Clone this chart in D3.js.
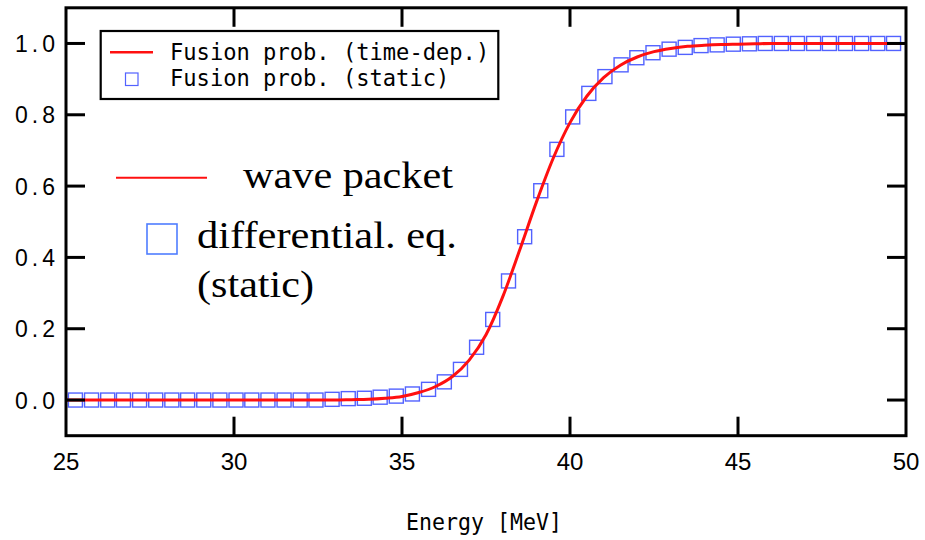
<!DOCTYPE html>
<html>
<head>
<meta charset="utf-8">
<script src="https://cdn.jsdelivr.net/npm/d3@7"></script>
<style>
  body { margin: 0; background: #fff; }
  svg { display: block; }
</style>
</head>
<body>
<svg class="chart" width="925" height="540"></svg>
<script>
// static calculation (differential eq.)
const energyStatic = [
  25.28, 25.76, 26.24, 26.71, 27.19, 27.67, 28.15, 28.62, 29.10, 29.58,
  30.06, 30.53, 31.01, 31.49, 31.97, 32.44, 32.92, 33.40, 33.88, 34.35,
  34.83, 35.31, 35.79, 36.26, 36.74, 37.22, 37.70, 38.17, 38.65, 39.13,
  39.61, 40.08, 40.56, 41.04, 41.52, 41.99, 42.47, 42.95, 43.43, 43.90,
  44.38, 44.86, 45.34, 45.81, 46.29, 46.77, 47.25, 47.72, 48.20, 48.68,
  49.16, 49.63
];
const probStatic = [
  0, 0, 0, 0, 0, 0, 0, 0, 0, 0,
  0, 0, 0, 0, 0, 0, 0.002, 0.004, 0.005, 0.008,
  0.011, 0.017, 0.030, 0.051, 0.086, 0.148, 0.226, 0.334, 0.458, 0.587,
  0.703, 0.794, 0.860, 0.907, 0.940, 0.960, 0.974, 0.984, 0.989, 0.994,
  0.996, 0.998, 0.999, 1, 1, 1, 1, 1, 1, 1,
  1, 1
];

// time-dependent wave packet
const energyWave = [
  25, 25.5, 26, 26.5, 27, 27.5, 28, 28.5, 29, 29.5,
  30, 30.5, 31, 31.5, 32, 32.5, 33, 33.5, 34, 34.5,
  35, 35.5, 36, 36.5, 37, 37.5, 38, 38.5, 39, 39.5,
  40, 40.5, 41, 41.5, 42, 42.5, 43, 43.5, 44, 44.5,
  45, 45.5, 46, 46.5, 47, 47.5, 48, 48.5, 49, 49.5,
  50
];
const probWave = [
  0, 0, 0, 0, 0, 0, 0, 0, 0, 0,
  0, 0, 0, 0, 0, 0, 0, 0.001, 0.002, 0.005,
  0.010, 0.021, 0.038, 0.066, 0.112, 0.183, 0.290, 0.420, 0.555, 0.678,
  0.778, 0.852, 0.904, 0.939, 0.962, 0.977, 0.986, 0.992, 0.995, 0.997,
  0.998, 0.999, 1, 1, 1, 1, 1, 1, 1, 1,
  1
];

const xTicks = [25, 30, 35, 40, 45, 50];
const yTicks = [0, 0.2, 0.4, 0.6, 0.8, 1.0];
const legendLabels = [`Fusion prob. (time-dep.)`, `Fusion prob. (static)`];
const noteLabels = [`wave packet`, `differential. eq.`, `(static)`];
const xTitle = `Energy [MeV]`;

const plotLeft = 66;
const plotRight = 906;
const plotTop = 7.8;
const plotBottom = 435.7;
const tickLen = 19;
const red = `#ff1010`;
const blue = `#5262ff`;

const svg = d3.select(`.chart`);

const x = d3.scaleLinear()
  .domain([25, 50])
  .range([plotLeft, plotRight]);

const y = d3.scaleLinear()
  .domain([-0.1, 1.1])
  .range([plotBottom, plotTop]);

const staticPts = energyStatic.map((e, i) => ({e, p: probStatic[i]}));
const wavePts = energyWave.map((e, i) => ({e, p: probWave[i]}));

// squares
const sq = 14;
svg.append(`g`)
  .selectAll(`rect`)
  .data(staticPts)
  .enter().append(`rect`)
  .attr(`x`, d => x(d.e) - sq / 2)
  .attr(`y`, d => y(d.p) - sq / 2)
  .attr(`width`, sq)
  .attr(`height`, sq)
  .attr(`fill`, `none`)
  .attr(`stroke`, blue)
  .attr(`stroke-width`, 1.4);

// wave packet line
const line = d3.line()
  .x(d => x(d.e))
  .y(d => y(d.p))
  .curve(d3.curveMonotoneX);

svg.append(`path`)
  .datum(wavePts)
  .attr(`d`, line)
  .attr(`fill`, `none`)
  .attr(`stroke`, red)
  .attr(`stroke-width`, 3);

// frame
svg.append(`rect`)
  .attr(`x`, plotLeft)
  .attr(`y`, plotTop)
  .attr(`width`, plotRight - plotLeft)
  .attr(`height`, plotBottom - plotTop)
  .attr(`fill`, `none`)
  .attr(`stroke`, `#000`)
  .attr(`stroke-width`, 3);

// inner ticks, all four sides
const innerX = xTicks.filter(t => t > 25 && t < 50);
const ticks = svg.append(`g`)
  .attr(`stroke`, `#000`)
  .attr(`stroke-width`, 3);

innerX.forEach(t => {
  ticks.append(`line`)
    .attr(`x1`, x(t)).attr(`x2`, x(t))
    .attr(`y1`, plotBottom).attr(`y2`, plotBottom - tickLen);
  ticks.append(`line`)
    .attr(`x1`, x(t)).attr(`x2`, x(t))
    .attr(`y1`, plotTop).attr(`y2`, plotTop + tickLen);
});

yTicks.forEach(t => {
  ticks.append(`line`)
    .attr(`x1`, plotLeft).attr(`x2`, plotLeft + tickLen)
    .attr(`y1`, y(t)).attr(`y2`, y(t));
  ticks.append(`line`)
    .attr(`x1`, plotRight).attr(`x2`, plotRight - tickLen)
    .attr(`y1`, y(t)).attr(`y2`, y(t));
});

// tick labels
svg.append(`g`)
  .selectAll(`text`)
  .data(xTicks)
  .enter().append(`text`)
  .attr(`x`, d => x(d))
  .attr(`y`, 470)
  .attr(`text-anchor`, `middle`)
  .attr(`font-family`, `"Liberation Sans", Arial, sans-serif`)
  .attr(`font-size`, `24px`)
  .attr(`fill`, `#000`)
  .text(d => d);

svg.append(`g`)
  .selectAll(`text`)
  .data(yTicks)
  .enter().append(`text`)
  .attr(`x`, 59)
  .attr(`y`, d => y(d) + 8.5)
  .attr(`text-anchor`, `end`)
  .attr(`font-family`, `"Liberation Sans", Arial, sans-serif`)
  .attr(`font-size`, `23px`)
  .attr(`letter-spacing`, `4px`)
  .attr(`fill`, `#000`)
  .text(d => d3.format(`.1f`)(d));

// axis title
svg.append(`text`)
  .attr(`x`, 406)
  .attr(`y`, 530)
  .attr(`font-family`, `"DejaVu Sans Mono", monospace`)
  .attr(`font-size`, `23px`)
  .attr(`textLength`, 156)
  .attr(`lengthAdjust`, `spacingAndGlyphs`)
  .attr(`fill`, `#000`)
  .text(xTitle);

// legend box
const legend = svg.append(`g`);

legend.append(`rect`)
  .attr(`x`, 100.7)
  .attr(`y`, 31)
  .attr(`width`, 397.6)
  .attr(`height`, 68)
  .attr(`fill`, `#fff`)
  .attr(`stroke`, `#000`)
  .attr(`stroke-width`, 2.2);

legend.append(`line`)
  .attr(`x1`, 110).attr(`x2`, 153)
  .attr(`y1`, 52.3).attr(`y2`, 52.3)
  .attr(`stroke`, red)
  .attr(`stroke-width`, 2.5);

legend.append(`rect`)
  .attr(`x`, 125.5).attr(`y`, 73)
  .attr(`width`, 12.5).attr(`height`, 12.5)
  .attr(`fill`, `none`)
  .attr(`stroke`, blue)
  .attr(`stroke-width`, 1.2);

legend.selectAll(`text`)
  .data(legendLabels)
  .enter().append(`text`)
  .attr(`x`, 170)
  .attr(`y`, (d, i) => 60 + i * 26)
  .attr(`font-family`, `"DejaVu Sans Mono", monospace`)
  .attr(`font-size`, `23px`)
  .attr(`textLength`, d => d.length * 13.3)
  .attr(`lengthAdjust`, `spacingAndGlyphs`)
  .attr(`fill`, `#000`)
  .text(d => d);

// big annotation
const note = svg.append(`g`)
  .attr(`font-family`, `"Liberation Serif", "Times New Roman", serif`)
  .attr(`font-size`, `38px`)
  .attr(`fill`, `#000`);

note.append(`line`)
  .attr(`x1`, 116).attr(`x2`, 207)
  .attr(`y1`, 177.7).attr(`y2`, 177.7)
  .attr(`stroke`, red)
  .attr(`stroke-width`, 2);

note.append(`rect`)
  .attr(`x`, 147).attr(`y`, 224)
  .attr(`width`, 30).attr(`height`, 30)
  .attr(`fill`, `none`)
  .attr(`stroke`, `#4f7dff`)
  .attr(`stroke-width`, 1.6);

note.append(`text`)
  .attr(`x`, 243).attr(`y`, 188.3)
  .attr(`textLength`, 210)
  .attr(`lengthAdjust`, `spacingAndGlyphs`)
  .text(noteLabels[0]);

note.append(`text`)
  .attr(`x`, 197).attr(`y`, 248.3)
  .attr(`textLength`, 260)
  .attr(`lengthAdjust`, `spacingAndGlyphs`)
  .text(noteLabels[1]);

note.append(`text`)
  .attr(`x`, 197).attr(`y`, 297)
  .attr(`textLength`, 117)
  .attr(`lengthAdjust`, `spacingAndGlyphs`)
  .text(noteLabels[2]);
</script>
</body>
</html>
